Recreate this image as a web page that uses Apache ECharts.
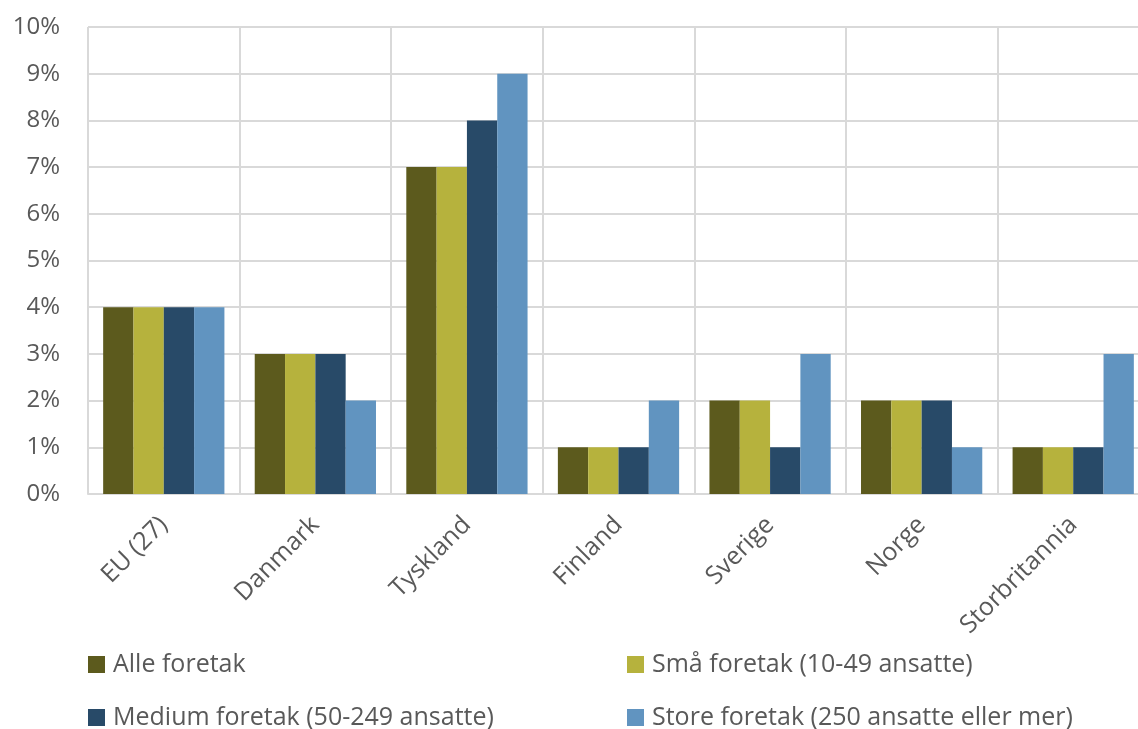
<!DOCTYPE html>
<html>
<head>
<meta charset="utf-8">
<script src="https://cdn.jsdelivr.net/npm/echarts@6/dist/echarts.min.js"></script>
<style>
html,body{margin:0;padding:0;background:#fff;}
#c{width:1138px;height:729px;}
</style>
</head>
<body>
<div id="c"></div>
<script>
var categories = ['EU (27)', 'Danmark', 'Tyskland', 'Finland', 'Sverige', 'Norge', 'Storbritannia'];
var seriesNames = ['Alle foretak', 'Små foretak (10-49 ansatte)', 'Medium foretak (50-249 ansatte)', 'Store foretak (250 ansatte eller mer)'];
var alle = [4, 3, 7, 1, 2, 2, 1];
var smaa = [4, 3, 7, 1, 2, 2, 1];
var medium = [4, 3, 8, 1, 1, 2, 1];
var store = [4, 2, 9, 2, 3, 1, 3];
var yTicks = [0, 1, 2, 3, 4, 5, 6, 7, 8, 9, 10];

var colors = ['#5C5A1D', '#B6B23D', '#284A68', '#6194C0'];
var font = '"Open Sans", "DejaVu Sans", sans-serif';
var values = [alle, smaa, medium, store];

var legendPos = [[88, 652], [627, 652], [88, 705], [627, 705]];
function makeLegend(i) {
  return {
    left: legendPos[i][0], top: legendPos[i][1], padding: 0,
    itemWidth: 17, itemHeight: 17, icon: 'rect', itemGap: 0,
    textStyle: {fontFamily: font, fontSize: 25, color: '#595959', padding: [0, 0, 0, 3]},
    data: [seriesNames[i]]
  };
}

var chart = echarts.init(document.getElementById('c'), null, {renderer: 'canvas'});
chart.setOption({
  animation: false,
  color: colors,
  grid: {left: 88, top: 27, width: 1061, height: 467, containLabel: false, outerBoundsMode: 'none'},
  legend: [0, 1, 2, 3].map(makeLegend),
  xAxis: {
    type: 'category',
    data: categories,
    axisLine: {lineStyle: {color: '#d9d9d9', width: 2}},
    axisTick: {show: false},
    splitLine: {show: true, lineStyle: {color: '#d9d9d9', width: 2}},
    axisLabel: {rotate: 45, fontFamily: font, fontSize: 25, color: '#595959', margin: 27, interval: 0}
  },
  yAxis: {
    type: 'value',
    min: yTicks[0], max: yTicks[yTicks.length - 1], interval: 1,
    axisLine: {show: false},
    axisTick: {show: false},
    splitLine: {lineStyle: {color: '#d9d9d9', width: 2}},
    axisLabel: {formatter: '{value}%', fontFamily: font, fontSize: 24, color: '#595959', margin: 28}
  },
  series: values.map(function (v, i) {
    return {
      name: seriesNames[i], type: 'bar', data: v,
      barGap: '0%', barCategoryGap: '20%',
      itemStyle: {color: colors[i]}
    };
  })
});
</script>
</body>
</html>
